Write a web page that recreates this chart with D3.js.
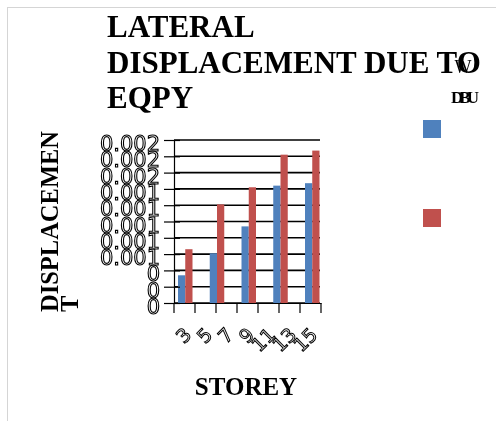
<!DOCTYPE html>
<html><head><meta charset="utf-8">
<script src="https://cdn.jsdelivr.net/npm/d3@7"></script>
<style>html,body{margin:0;padding:0;background:#fff;}svg{display:block;will-change:transform;}</style>
</head><body>
<script>
const titleLines = ["LATERAL", "DISPLACEMENT DUE TO", "EQPY"];
const yTitleLines = ["DISPLACEMEN", "T"];
const xTitle = "STOREY";
const groups = ["G1", "G2", "G3", "G4", "G5"];
const seriesNames = ["W", "DBU"];
const seriesA = [0.00034, 0.00061, 0.00094, 0.00144, 0.00147];
const seriesB = [0.00066, 0.00121, 0.00142, 0.00182, 0.00187];
const xTickLabels = ["3", "5", "7", "9", "11", "13", "15"];
const yTicks = [0, 0.0002, 0.0004, 0.0006, 0.0008, 0.001, 0.0012, 0.0014, 0.0016, 0.0018, 0.002];
const colors = ["#4F81BD", "#C0504D"];

const W = 496, H = 421;
const svg = d3.select("body").append("svg").attr("width", W).attr("height", H);

svg.append("rect").attr("x", 0).attr("y", 0).attr("width", W).attr("height", H).attr("fill", "#fff");
svg.append("rect").attr("x", 7.5).attr("y", 7.5).attr("width", 520).attr("height", 430)
  .attr("fill", "none").attr("stroke", "#aaa").attr("stroke-dasharray", "1,1");

const x0 = 174, x1 = 321, yTop = 140, yBot = 303;
const y = d3.scaleLinear().domain([0, 0.002]).range([yBot, yTop]);

// gridlines
svg.append("g").selectAll("line").data(yTicks).join("line")
  .attr("x1", x0).attr("x2", 320).attr("y1", d => y(d)).attr("y2", d => y(d))
  .attr("stroke", "#000").attr("stroke-width", 1.6);

// bars
const gx = d3.scaleBand().domain(groups).range([x0, x0 + 5 * 31.75]).padding(0);
const sx = d3.scaleBand().domain([0, 1]).range([4, 18.5]).padding(0);
const rows = groups.map((g, i) => ({ g, v: [seriesA[i], seriesB[i]] }));
svg.append("g").selectAll("g").data(rows).join("g")
  .attr("transform", d => `translate(${gx(d.g)},0)`)
  .selectAll("rect").data(d => d.v.map((v, k) => ({ v, k }))).join("rect")
  .attr("x", d => sx(d.k)).attr("width", sx.bandwidth())
  .attr("y", d => y(d.v)).attr("height", d => yBot - y(d.v))
  .attr("fill", d => colors[d.k]);

// y axis
const yAxis = d3.axisLeft(y).tickValues(yTicks).tickSize(10).tickFormat(d3.format(".3~f"));
const ya = svg.append("g").attr("transform", `translate(${x0},0)`).call(yAxis);
ya.select(".domain").attr("stroke", "#000").attr("stroke-width", 1.2);
ya.selectAll(".tick line").attr("x2", -10).attr("x1", 6).attr("stroke", "#000").attr("stroke-width", 1.2);
ya.selectAll(".tick text").attr("x", -14).attr("dy", "0.5em")
  .attr("font-family", "DejaVu Sans").attr("font-size", 21)
  .attr("fill", "none").attr("stroke", "#000").attr("stroke-width", 1.1);

// x axis
const xb = d3.scaleBand().domain(xTickLabels).range([x0, x1]).padding(0);
const xAxis = d3.axisBottom(xb).tickSize(0).tickFormat("");
const xa = svg.append("g").attr("transform", `translate(0,${yBot})`).call(xAxis);
xa.select(".domain").attr("stroke", "#000").attr("stroke-width", 1.2);
const bounds = xTickLabels.map(d => xb(d)).concat([x1]);
svg.append("g").selectAll("line").data(bounds).join("line")
  .attr("x1", d => d).attr("x2", d => d).attr("y1", yBot).attr("y2", yBot + 10)
  .attr("stroke", "#000").attr("stroke-width", 1.2);
svg.append("g").selectAll("text").data(xTickLabels).join("text")
  .attr("transform", d => `translate(${xb(d) + xb.bandwidth() / 2 + 8},${336}) rotate(-45)`)
  .attr("text-anchor", "end")
  .attr("font-family", "DejaVu Sans").attr("font-size", 19)
  .attr("fill", "none").attr("stroke", "#000").attr("stroke-width", 1)
  .text(d => d);

// title
svg.append("g").selectAll("text").data(titleLines).join("text")
  .attr("x", 107).attr("y", (d, i) => 37 + i * 35.5)
  .attr("font-family", "Liberation Serif").attr("font-weight", "bold").attr("font-size", 31)
  .attr("fill", "#000").text(d => d);

// y title
svg.append("g").selectAll("text").data(yTitleLines).join("text")
  .attr("transform", (d, i) => `translate(${58 + i * 20},312) rotate(-90)`)
  .attr("font-family", "Liberation Serif").attr("font-weight", "bold").attr("font-size", 24.5)
  .attr("fill", "#000").text(d => d);

// x title
svg.append("text").attr("x", 246).attr("y", 395).attr("text-anchor", "middle")
  .attr("font-family", "Liberation Serif").attr("font-weight", "bold").attr("font-size", 25)
  .attr("fill", "#000").text(xTitle);

// legend
const lg = svg.append("g");
lg.selectAll("rect").data(seriesNames).join("rect")
  .attr("x", 423).attr("y", (d, i) => 120 + i * 89).attr("width", 18).attr("height", 18)
  .attr("fill", (d, i) => colors[i]);
lg.append("text").attr("x", 463).attr("y", 73).attr("text-anchor", "middle")
  .attr("font-family", "Liberation Serif").attr("font-size", 18).attr("fill", "#000").text(seriesNames[0]);
lg.append("text").attr("x", 463).attr("y", 103).attr("text-anchor", "middle")
  .attr("font-family", "Liberation Serif").attr("font-weight", "bold").attr("font-size", 17).attr("letter-spacing", -4)
  .attr("fill", "#000").text(seriesNames[1]);
</script>
</body></html>
